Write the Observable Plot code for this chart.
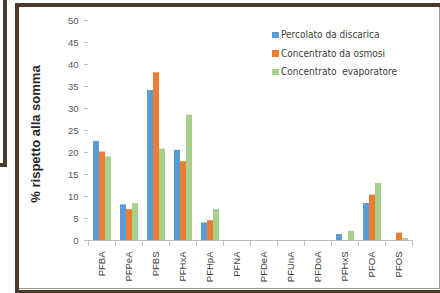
<!DOCTYPE html>
<html>
<head>
<meta charset="utf-8">
<script src="https://cdn.jsdelivr.net/npm/d3@7"></script>
<script src="https://cdn.jsdelivr.net/npm/@observablehq/plot@0.6"></script>
<style>
  html, body { margin: 0; padding: 0; background: #fff; }
  #wrap { position: relative; width: 440px; height: 293px; overflow: hidden; background: #fff; }
  #chart { position: absolute; left: 0; top: 0; }
  .brown { position: absolute; background: #4b3a29; }
  .gray { position: absolute; background: #9a9a9a; }
  #ylabel { position: absolute; left: 35px; top: 134px; transform: translate(-50%, -50%) rotate(-90deg);
    white-space: nowrap; font: bold 13px "Liberation Sans", Arial, sans-serif; color: #262626; }
  #legend { position: absolute; left: 272px; top: 26px; font: 10px "Liberation Sans Narrow", "DejaVu Sans Condensed", sans-serif; color: #404040; }
  .item { position: relative; height: 18.7px; line-height: 18.7px; white-space: pre; }
  .sw { display: inline-block; width: 6.5px; height: 6.5px; margin-right: 2.5px; vertical-align: 0px; }
</style>
</head>
<body>
<div id="wrap">
  <div id="chart"></div>
  <div id="ylabel">% rispetto alla somma</div>
  <div id="legend"></div>
  <!-- decorative frame -->
  <div class="brown" style="left:3px;top:0;width:4px;height:167px"></div>
  <div class="brown" style="left:0;top:163px;width:7px;height:4px"></div>
  <div class="brown" style="left:15px;top:3px;width:425px;height:4px"></div>
  <div class="brown" style="left:15px;top:3px;width:4px;height:290px"></div>
  <div class="brown" style="left:15px;top:290px;width:425px;height:3px"></div>
  <div class="gray" style="left:19px;top:288px;width:421px;height:1px"></div>
  <div class="gray" style="left:439px;top:7px;width:1px;height:282px"></div>
</div>
<script>
const categories = ["PFBA","PFPeA","PFBS","PFHxA","PFHpA","PFNA","PFDeA","PFUnA","PFDoA","PFHxS","PFOA","PFOS"];
const seriesNames = ["Percolato da discarica","Concentrato da osmosi","Concentrato  evaporatore"];
const percolato   = [22.5, 8.1, 34.1, 20.5, 4.0, 0, 0, 0, 0, 1.35, 8.4, 0];
const osmosi      = [20.1, 7.0, 38.1, 17.9, 4.5, 0, 0, 0, 0, 0,    10.3, 1.65];
const evaporatore = [19.0, 8.4, 20.8, 28.5, 7.0, 0, 0, 0, 0, 2.1,  13.0, 0.45];
const yTicks = [0, 5, 10, 15, 20, 25, 30, 35, 40, 45, 50];
const colors = ["#5b9bd5", "#ed7d31", "#a9d18e"];

const seriesValues = [percolato, osmosi, evaporatore];
const rows = [];
categories.forEach((c, i) => {
  seriesNames.forEach((s, j) => rows.push({cat: c, series: s, value: seriesValues[j][i]}));
});

const axisGray = "#bfbfbf";
const chart = Plot.plot({
  width: 440,
  height: 293,
  marginLeft: 82,
  marginRight: 23,
  marginTop: 20,
  marginBottom: 53,
  style: {fontFamily: "'Liberation Sans', Arial, sans-serif", fontSize: "9.5px", color: "#595959", background: "transparent", overflow: "visible"},
  fx: {domain: categories, padding: 0, label: null},
  x: {domain: seriesNames, paddingInner: 0, paddingOuter: 0.7, axis: null},
  y: {domain: [0, 50], label: null},
  color: {domain: seriesNames, range: colors},
  marks: [
    Plot.barY(rows, {fx: "cat", x: "series", y: "value", fill: "series"}),
    Plot.ruleY([0], {stroke: axisGray}),
    Plot.frame({anchor: "left", stroke: axisGray, insetTop: 220, insetBottom: -5}),
    Plot.frame({anchor: "right", stroke: axisGray, insetTop: 220, insetBottom: -5}),
    Plot.axisY(yTicks, {tickSize: 4, tickPadding: 6, stroke: axisGray, color: "#595959", line: true, label: null}),
    Plot.axisFx({anchor: "bottom", tickSize: 0, tickPadding: 11, tickRotate: -90, label: null, color: "#404040", fontSize: 9.5})
  ]
});
document.getElementById("chart").appendChild(chart);

const legend = document.getElementById("legend");
seriesNames.forEach((s, j) => {
  const it = document.createElement("div");
  it.className = "item";
  const sw = document.createElement("span");
  sw.className = "sw";
  sw.style.background = colors[j];
  it.appendChild(sw);
  it.appendChild(document.createTextNode(s));
  legend.appendChild(it);
});
</script>
</body>
</html>
